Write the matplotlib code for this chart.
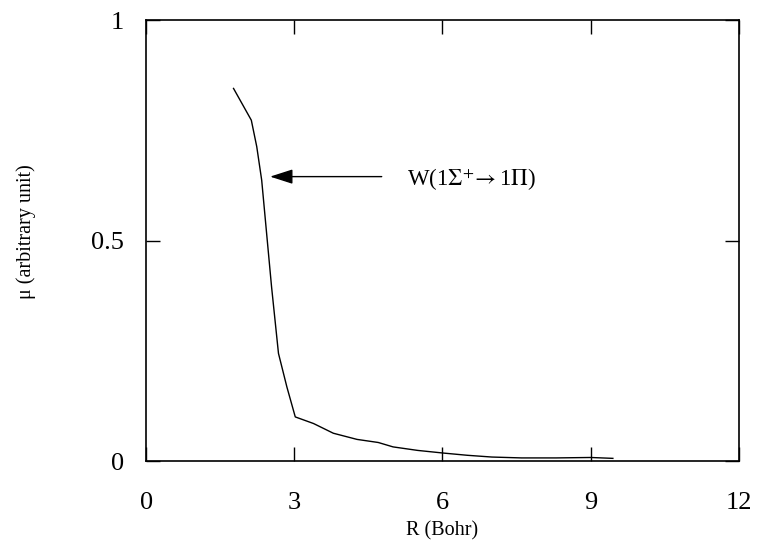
# mu(R) transition curve for W(1Sigma+ -> 1Pi)
import numpy as np
import matplotlib
matplotlib.use("Agg")
import matplotlib.pyplot as plt

plt.rcParams['font.family'] = ['Liberation Serif', 'DejaVu Serif']
plt.rcParams['mathtext.fontset'] = 'stix'

# R (Bohr) and mu (arbitrary unit)
R = [1.77, 2.13, 2.24, 2.34, 2.44, 2.54, 2.68, 2.85, 3.02, 3.39, 3.79, 4.27,
     4.70, 5.00, 5.50, 6.02, 6.50, 7.00, 7.60, 8.30, 9.00, 9.45]
mu = [0.845, 0.773, 0.713, 0.637, 0.516, 0.395, 0.244, 0.168, 0.100, 0.085,
      0.063, 0.049, 0.042, 0.032, 0.024, 0.018, 0.013, 0.009, 0.007, 0.007,
      0.008, 0.006]

xticks = [0, 3, 6, 9, 12]
yticks = [0, 0.5, 1]
ytick_labels = ['0', '0.5', '1']

label_text = r'W(1$\Sigma^{+}\!\rightarrow$1$\Pi$)'
arrow_tail = (4.77, 0.645)
arrow_head = (2.51, 0.645)

fig = plt.figure(figsize=(7.57, 5.43), dpi=100)
ax = fig.add_axes([0.193, 0.151, 0.783, 0.812])

ax.plot(R, mu, color='black', lw=1.0)

ax.set_xlim(0, 12)
ax.set_ylim(0, 1)
ax.set_xticks(xticks)
ax.set_yticks(yticks)
ax.set_yticklabels(ytick_labels)
ax.tick_params(direction='in', length=10, width=1.0, top=True, right=True,
               labelsize=19)
ax.tick_params(axis='x', pad=22)
ax.tick_params(axis='y', pad=16)
for s in ax.spines.values():
    s.set_linewidth(1.2)

ax.set_xlabel('R (Bohr)', fontsize=14.5)
ax.set_ylabel('μ (arbitrary unit)', fontsize=14.5)
ax.xaxis.set_label_coords(0.5, -0.136)
ax.yaxis.set_label_coords(-0.185, 0.52)

ax.annotate('', xy=arrow_head, xytext=arrow_tail,
            arrowprops=dict(arrowstyle='-|>,head_length=1.4,head_width=0.45',
                            color='black', lw=1.0, shrinkA=0, shrinkB=0))
ax.text(5.28, 0.637, label_text, fontsize=16.5, va='center', ha='left')

fig.savefig('out.png', dpi=100, facecolor='w')
